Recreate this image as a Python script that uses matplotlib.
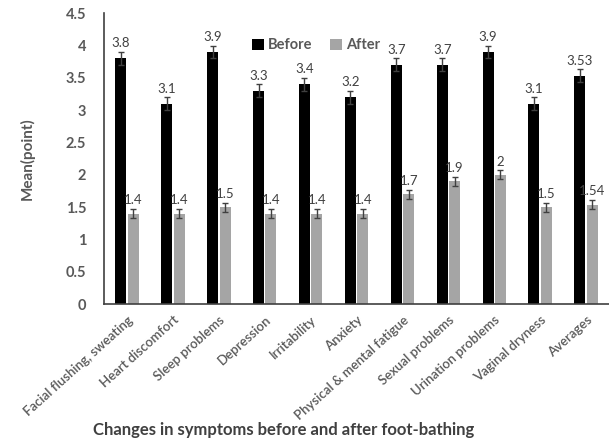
import matplotlib
matplotlib.use("Agg")
import matplotlib.pyplot as plt
import numpy as np

# Data
categories = [
    "Facial flushing, sweating", "Heart discomfort", "Sleep problems",
    "Depression", "Irritability", "Anxiety", "Physical & mental fatigue",
    "Sexual problems", "Urination problems", "Vaginal dryness", "Averages",
]
before = [3.8, 3.1, 3.9, 3.3, 3.4, 3.2, 3.7, 3.7, 3.9, 3.1, 3.53]
after = [1.4, 1.4, 1.5, 1.4, 1.4, 1.4, 1.7, 1.9, 2.0, 1.5, 1.54]
before_labels = ["3.8", "3.1", "3.9", "3.3", "3.4", "3.2", "3.7", "3.7", "3.9", "3.1", "3.53"]
after_labels = ["1.4", "1.4", "1.5", "1.4", "1.4", "1.4", "1.7", "1.9", "2", "1.5", "1.54"]
before_err = [0.1] * 11
after_err = [0.07] * 11
yticks = [0, 0.5, 1, 1.5, 2, 2.5, 3, 3.5, 4, 4.5]
ytick_labels = ["0", "0.5", "1", "1.5", "2", "2.5", "3", "3.5", "4", "4.5"]

BLACK = "#000000"
GRAY = "#a5a5a5"
TEXT = "#595959"
ERR = "#404040"

plt.rcParams["font.family"] = ["Lato", "DejaVu Sans"]

fig = plt.figure(figsize=(6.09, 4.40), dpi=100)
ax = fig.add_axes([0.171, 0.309, 0.829, 0.661])

x = np.arange(len(categories))
w = 0.24
off = 0.135

ax.bar(x - off, before, width=w, color=BLACK, label="Before",
       yerr=before_err, error_kw=dict(ecolor=ERR, elinewidth=1, capsize=2.5, capthick=1))
ax.bar(x + off, after, width=w, color=GRAY, label="After",
       yerr=after_err, error_kw=dict(ecolor=ERR, elinewidth=1, capsize=2.5, capthick=1))

for xi, v, e, s in zip(x, before, before_err, before_labels):
    ax.text(xi - off, v + e + 0.04, s, ha="center", va="bottom", fontsize=9.5, color="#404040")
for xi, v, e, s in zip(x, after, after_err, after_labels):
    ax.text(xi + off, v + e + 0.04, s, ha="center", va="bottom", fontsize=9.5, color="#404040")

ax.set_xlim(-0.5, 10.5)
ax.set_ylim(0, 4.5)
ax.set_yticks(yticks)
ax.set_yticklabels(ytick_labels, fontsize=10.5, fontweight="bold", color=TEXT)
ax.set_xticks(x)
ax.set_xticklabels(categories, rotation=42, ha="right", rotation_mode="anchor",
                   fontsize=9.5, fontweight="semibold", color=TEXT)
ax.tick_params(axis="both", length=0)
ax.tick_params(axis="y", pad=13)
ax.tick_params(axis="x", pad=7)

for side in ["top", "right"]:
    ax.spines[side].set_visible(False)
ax.spines["left"].set_color("#404040")
ax.spines["bottom"].set_color("#404040")
ax.spines["left"].set_linewidth(1.2)
ax.spines["bottom"].set_linewidth(1.2)

ax.set_ylabel("Mean(point)", fontsize=11, fontweight="bold", color=TEXT)
ax.yaxis.set_label_coords(-0.137, 0.5)
fig.text(0.466, 0.022, "Changes in symptoms before and after foot-bathing",
         ha="center", va="center", fontsize=12, fontweight="bold", color="#404040")

ax.legend(loc="center", bbox_to_anchor=(0.42, 0.89), ncol=2, frameon=False,
          handlelength=0.8, handleheight=0.8, handletextpad=0.3, columnspacing=1.2,
          prop={"weight": "bold", "size": 10.5}, labelcolor=TEXT)

fig.savefig("out.png", dpi=100, facecolor="white")
